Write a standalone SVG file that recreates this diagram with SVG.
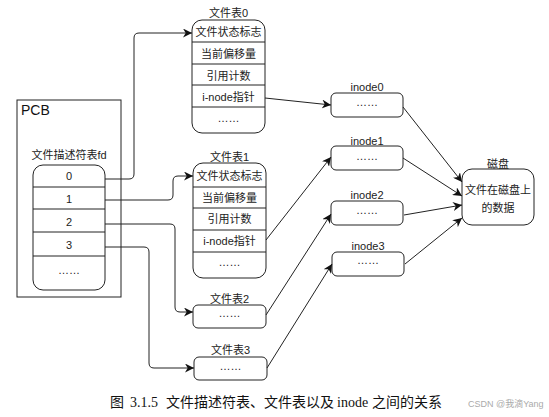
<svg xmlns="http://www.w3.org/2000/svg" width="549" height="417" viewBox="0 0 549 417">
<defs>
<style>
.box{fill:#fff;stroke:#222;stroke-width:1}
.ln{fill:none;stroke:#222;stroke-width:1}
.t{font-family:"Liberation Sans",Arial,"Noto Sans CJK SC",sans-serif;font-size:11px;fill:#222;text-anchor:middle;dominant-baseline:central}
.d{font-family:"Liberation Sans",Arial,sans-serif;font-size:11px;fill:#222;text-anchor:middle}
.cap{font-family:"Liberation Serif","Times New Roman","Noto Sans CJK SC",serif;font-size:14px;fill:#111}
.wm{font-family:"Liberation Sans",Arial,"Noto Sans CJK SC",sans-serif;font-size:9px;fill:#aaa}
</style>
<marker id="ar" viewBox="0 0 10 10" refX="10" refY="5" markerWidth="9" markerHeight="9" markerUnits="userSpaceOnUse" orient="auto">
<path d="M0,0 L10,5 L0,10 L3,5 z" fill="#111"/>
</marker>
</defs>
<rect width="549" height="417" fill="#fff"/>

<g id="pcb">
<rect x="17" y="100" width="104" height="197" fill="#fff" stroke="#222"/>
<text x="21" y="115" font-family="Liberation Sans,Arial,sans-serif" font-size="14" fill="#111">PCB</text>
</g>

<g id="fd-table">
<text class="t" x="69" y="155">文件描述符表fd</text>
<rect class="box" x="33" y="165" width="72" height="125" rx="10"/>
<path class="ln" d="M33,187H105M33,209H105M33,232H105M33,256H105"/>
<text class="t" x="69" y="176">0</text>
<text class="t" x="69" y="199">1</text>
<text class="t" x="69" y="222">2</text>
<text class="t" x="69" y="245">3</text>
<text class="d" x="69" y="274">……</text>
</g>

<g id="file-table0">
<rect class="box" x="192" y="20" width="73" height="113" rx="10"/>
<text class="t" x="228.5" y="13">文件表0</text>
<path class="ln" d="M192,42H265M192,64H265M192,85H265M192,107H265"/>
<text class="t" x="228.5" y="32">文件状态标志</text>
<text class="t" x="228.5" y="54">当前偏移量</text>
<text class="t" x="228.5" y="76">引用计数</text>
<text class="t" x="228.5" y="97">i-node指针</text>
<text class="d" x="228.5" y="122">……</text>
</g>

<g id="file-table1">
<rect class="box" x="193" y="163" width="73" height="115" rx="10"/>
<text class="t" x="229.5" y="157">文件表1</text>
<path class="ln" d="M193,187H266M193,208H266M193,230H266M193,252H266"/>
<text class="t" x="229.5" y="176">文件状态标志</text>
<text class="t" x="229.5" y="198">当前偏移量</text>
<text class="t" x="229.5" y="219">引用计数</text>
<text class="t" x="229.5" y="241">i-node指针</text>
<text class="d" x="229.5" y="266">……</text>
</g>

<g id="file-table2">
<text class="t" x="229.5" y="299">文件表2</text>
<rect class="box" x="193" y="305" width="73" height="23" rx="5"/>
<text class="d" x="229.5" y="317">……</text>
</g>

<g id="file-table3">
<text class="t" x="230.5" y="350">文件表3</text>
<rect class="box" x="194" y="357" width="73" height="23" rx="5"/>
<text class="d" x="230.5" y="370">……</text>
</g>

<g id="inode0">
<text class="t" x="367" y="87">inode0</text>
<rect class="box" x="331" y="93" width="72" height="24" rx="5"/>
<text class="d" x="367" y="106">……</text>
</g>
<g id="inode1">
<text class="t" x="367" y="141">inode1</text>
<rect class="box" x="331" y="146" width="72" height="24" rx="5"/>
<text class="d" x="367" y="160">……</text>
</g>
<g id="inode2">
<text class="t" x="367" y="195">inode2</text>
<rect class="box" x="331" y="201" width="72" height="24" rx="5"/>
<text class="d" x="367" y="214">……</text>
</g>
<g id="inode3">
<text class="t" x="368" y="246">inode3</text>
<rect class="box" x="332" y="252" width="72" height="24" rx="5"/>
<text class="d" x="368" y="264">……</text>
</g>

<g id="disk">
<text class="t" x="498" y="164">磁盘</text>
<rect class="box" x="462" y="169" width="72" height="56" rx="10"/>
<text class="t" x="498" y="190">文件在磁盘上</text>
<text class="t" x="498" y="208">的数据</text>
</g>

<g id="connectors" class="ln" marker-end="url(#ar)">
<path d="M105,179H129Q134,179 134,174V38Q134,33 139,33H192"/>
<path d="M105,200H168Q173,200 173,195V181Q173,176 178,176H193"/>
<path d="M105,224H170Q175,224 175,229V307Q175,312 180,312H193"/>
<path d="M105,247H144Q149,247 149,252V363Q149,368 154,368H194"/>
<path d="M265,98L331,105"/>
<path d="M266,240L331,157"/>
<path d="M266,315L331,214"/>
<path d="M267,368L332,264"/>
<path d="M403,107L462,182"/>
<path d="M403,158L462,196"/>
<path d="M404,215L462,205"/>
<path d="M405,264L462,218"/>
</g>

<text class="cap" y="407"><tspan x="110">图</tspan><tspan x="130">3.1.5</tspan><tspan x="166">文件描述符表、文件表以及</tspan><tspan x="337">inode</tspan><tspan x="372">之间的关系</tspan></text>
<text class="wm" x="468" y="407">CSDN @我滴Yang</text>
</svg>
